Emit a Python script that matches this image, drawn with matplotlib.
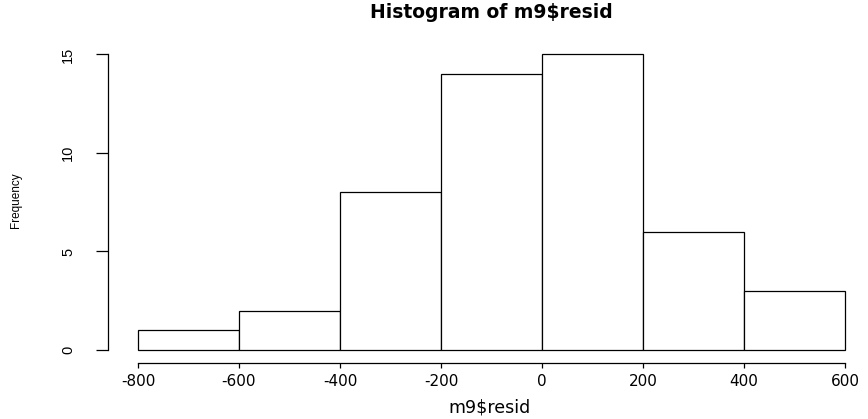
import matplotlib
matplotlib.use("Agg")
import matplotlib.pyplot as plt

# histogram of model residuals, R base-graphics look
bin_edges = [-800, -600, -400, -200, 0, 200, 400, 600]
counts = [1, 2, 8, 14, 15, 6, 3]
x_ticks = [-800, -600, -400, -200, 0, 200, 400, 600]
y_ticks = [0, 5, 10, 15]

W, H = 868, 419
fig = plt.figure(figsize=(W / 100, H / 100), dpi=100)
# axes box in pixels: left 108, right 860, bottom 363, top 40
ax = fig.add_axes([108 / W, (H - 363) / H, (860 - 108) / W, (363 - 40) / H])

widths = [b - a for a, b in zip(bin_edges[:-1], bin_edges[1:])]
ax.bar(bin_edges[:-1], counts, width=widths, align='edge',
       facecolor='white', edgecolor='black', linewidth=0.9)

ax.set_xlim(-859.4, 629.7)
ax.set_ylim(-0.66, 15.73)

for s in ('top', 'right'):
    ax.spines[s].set_visible(False)
ax.spines['bottom'].set_bounds(x_ticks[0], x_ticks[-1])
ax.spines['left'].set_bounds(y_ticks[0], y_ticks[-1])
for s in ('bottom', 'left'):
    ax.spines[s].set_linewidth(0.9)

ax.set_xticks(x_ticks)
ax.set_xticklabels([str(v) for v in x_ticks], family='DejaVu Sans',
                   fontsize=11)
ax.set_yticks(y_ticks)
ax.set_yticklabels([str(v) for v in y_ticks], rotation=90, va='center',
                   family='Liberation Sans', fontsize=10.5)
ax.tick_params(axis='x', direction='out', length=3.6, width=0.9, pad=4)
ax.tick_params(axis='y', direction='out', length=8.6, width=0.9, pad=15)

fig.text(491 / W, 1 - 13 / H, 'Histogram of m9$resid', ha='center',
         va='center', fontsize=13.5, fontweight='bold', family='DejaVu Sans')
fig.text(489 / W, 1 - 407 / H, 'm9$resid', ha='center', va='center',
         fontsize=12.5, family='DejaVu Sans')
fig.text(16 / W, 1 - 200 / H, 'Frequency', ha='center', va='center',
         rotation=90, fontsize=8.5, family='Liberation Sans')

fig.savefig('out.png', dpi=100, facecolor='white')
